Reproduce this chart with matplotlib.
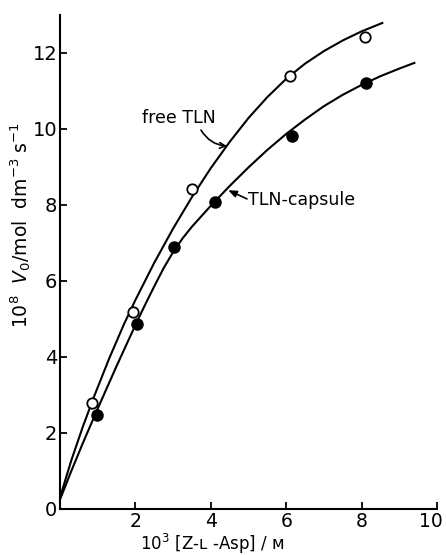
import matplotlib
matplotlib.use('Agg')
import matplotlib.pyplot as plt
from matplotlib.transforms import ScaledTranslation

# measured points
free_x = [0.85, 1.94, 3.50, 6.10, 8.09]
free_y = [2.80, 5.18, 8.42, 11.39, 12.42]
caps_x = [0.98, 2.04, 3.02, 4.11, 6.15, 8.12]
caps_y = [2.47, 4.87, 6.89, 8.08, 9.82, 11.20]

# drawn curves
free_curve_x = [0, 0.3, 0.6, 0.9, 1.3, 1.7, 2.0, 2.5, 3.0, 3.5, 4.0, 4.5,
                5.0, 5.5, 6.0, 6.5, 7.0, 7.5, 8.0, 8.55]
free_curve_y = [0.3, 1.28, 2.15, 2.95, 3.95, 4.87, 5.5, 6.48, 7.38, 8.21,
                8.97, 9.66, 10.29, 10.84, 11.32, 11.72, 12.05, 12.33, 12.57, 12.79]
caps_curve_x = [0, 0.3, 0.6, 1.0, 1.5, 2.0, 2.25, 2.5, 2.75, 3.0, 3.25, 3.5,
                4.0, 4.5, 5.0, 5.5, 6.0, 6.5, 7.0, 7.5, 8.0, 8.5, 9.0, 9.4]
caps_curve_y = [0.25, 1.0, 1.72, 2.64, 3.76, 4.84, 5.36, 5.86, 6.34, 6.76,
                7.12, 7.43, 7.98, 8.5, 8.99, 9.45, 9.87, 10.25, 10.6, 10.9,
                11.16, 11.39, 11.59, 11.74]

xticks = [2, 4, 6, 8, 10]
yticks = [0, 2, 4, 6, 8, 10, 12]

plt.rcParams['font.family'] = 'DejaVu Sans'
fig = plt.figure(figsize=(4.46, 5.55), dpi=100)
fig.patch.set_facecolor('white')
ax = fig.add_axes([60 / 446, 46 / 555, 377 / 446, 494 / 555])
ax.set_xlim(0, 10)
ax.set_ylim(0, 13)

for s in ['top', 'right']:
    ax.spines[s].set_visible(False)
for s in ['left', 'bottom']:
    ax.spines[s].set_linewidth(1.5)

ax.plot(free_curve_x, free_curve_y, color='black', lw=1.5)
ax.plot(caps_curve_x, caps_curve_y, color='black', lw=1.5)
ax.plot(free_x, free_y, 'o', ms=7.5, mfc='white', mec='black', mew=1.3,
        clip_on=False, zorder=3)
ax.plot(caps_x, caps_y, 'o', ms=8, mfc='black', mec='black',
        clip_on=False, zorder=3)

ax.set_xticks(xticks)
ax.set_yticks(yticks)
ax.set_xticklabels([str(t) for t in xticks])
ax.set_yticklabels([str(t) for t in yticks])
ax.tick_params(direction='in', length=5, width=1.3, labelsize=14)
ax.tick_params(axis='x', labelsize=13.5, pad=2.5)
ax.tick_params(axis='y', pad=2)
# keep the last x label inside the picture
last = ax.get_xticklabels()[-1]
last.set_transform(last.get_transform()
                   + ScaledTranslation(-6 / 100, 0, fig.dpi_scale_trans))

ax.set_xlabel(r'10$^3$ [Z-ʟ -Asp] / ᴍ', fontsize=12)
ax.xaxis.set_label_coords(0.405, -0.047)
ax.set_ylabel(r'10$^8$  $V_0$/mol  dm$^{-3}$ s$^{-1}$', fontsize=13.5)
ax.yaxis.set_label_coords(-0.072, 0.575)

# curve labels
ax.text(2.17, 10.29, 'free TLN', fontsize=12.5, va='center', ha='left')
ax.annotate('', xy=(4.43, 9.55), xytext=(3.74, 9.97),
            arrowprops=dict(arrowstyle='->', lw=1.2, color='black',
                            shrinkA=0, shrinkB=0,
                            connectionstyle='arc3,rad=0.25'))
ax.text(4.99, 8.13, 'TLN-capsule', fontsize=12.5, va='center', ha='left')
ax.annotate('', xy=(4.46, 8.39), xytext=(4.96, 8.16),
            arrowprops=dict(arrowstyle='-|>,head_length=0.5,head_width=0.2',
                            lw=1.2, color='black', shrinkA=0, shrinkB=0))

fig.savefig('out.png', dpi=100, facecolor='white')
